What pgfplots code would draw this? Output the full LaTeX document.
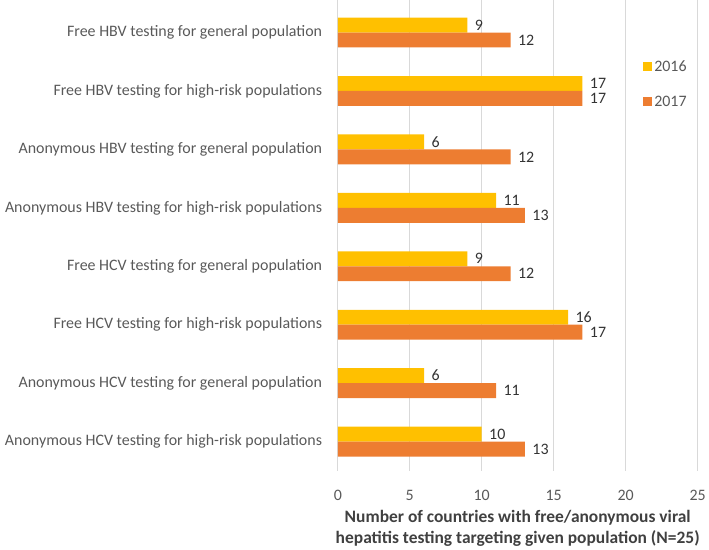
\documentclass[border=0pt]{standalone}
\usepackage{fontspec}
\setmainfont{Carlito}
\usepackage{pgfplots}
\pgfplotsset{compat=1.18}
\definecolor{c16}{HTML}{FFC000}
\definecolor{c17}{HTML}{ED7D31}
\definecolor{txt}{HTML}{595959}
\definecolor{ttl}{HTML}{404040}
\begin{document}
\begin{tikzpicture}
\begin{axis}[
  scale only axis, width=361pt, height=472pt,
  xmin=0, xmax=25, ymin=-0.55, ymax=7.5, y dir=reverse,
  xbar, bar width=15pt,
  xtick={0,5,...,25}, ytick={0,...,7},
  yticklabels={Free HBV testing for general population,
    Free HBV testing for high-risk populations,
    Anonymous HBV testing for general population,
    Anonymous HBV testing for high-risk populations,
    Free HCV testing for general population,
    Free HCV testing for high-risk populations,
    Anonymous HCV testing for general population,
    Anonymous HCV testing for high-risk populations},
  axis line style={draw=none}, tick style={draw=none},
  xmajorgrids, grid style={draw=black!15, line width=0.8pt},
  /pgf/number format/assume math mode=true,
  ticklabel style={font=\fontsize{16}{19}\selectfont, text=txt},
  yticklabel style={xshift=-8pt},
  xticklabel style={yshift=-16pt},
  nodes near coords,
  nodes near coords style={font=\fontsize{16}{19}\selectfont, text=black!80, anchor=west, xshift=4pt},
  xlabel={Number of countries with free/anonymous viral\\hepatitis testing targeting given population (N=25)},
  xlabel style={align=center, font=\bfseries\fontsize{17.5}{21}\selectfont, text=ttl, yshift=-3pt},
  legend style={draw=none, fill=white, at={(rel axis cs:0.843,0.822)}, anchor=west,
    font=\fontsize{16}{19}\selectfont, text=txt, row sep=19pt, inner sep=2pt},
]
\addplot[fill=c16, draw=none, bar shift=7.5pt,
  legend image code/.code={\fill[c16] (0pt,-4.5pt) rectangle (9pt,4.5pt);}]
  coordinates {(9,0) (17,1) (6,2) (11,3) (9,4) (16,5) (6,6) (10,7)};
\addplot[fill=c17, draw=none, bar shift=-7.5pt,
  legend image code/.code={\fill[c17] (0pt,-4.5pt) rectangle (9pt,4.5pt);}]
  coordinates {(12,0) (17,1) (12,2) (13,3) (12,4) (17,5) (11,6) (13,7)};
\legend{2016,2017}
\end{axis}
\path[use as bounding box] (-339pt,-77pt) rectangle (370pt,472pt);
\end{tikzpicture}
\end{document}
